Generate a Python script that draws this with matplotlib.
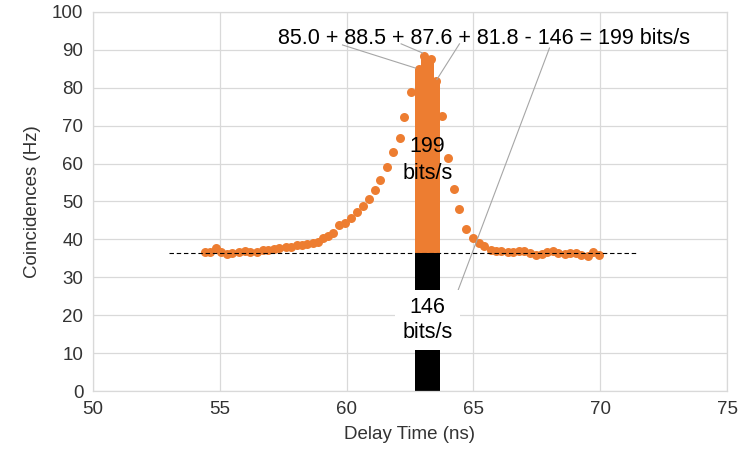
import matplotlib.pyplot as plt
import numpy as np

plt.rcParams['font.family'] = ['Liberation Sans', 'DejaVu Sans']

ORANGE = '#ED7D31'

# scatter of coincidence counts vs delay (outside the highlighted window)
delay = [54.4, 54.6, 54.85, 55.05, 55.3, 55.5, 55.75, 56.0, 56.2, 56.45, 56.7, 56.9,
         57.15, 57.35, 57.6, 57.8, 58.05, 58.25, 58.45, 58.67, 58.87, 59.07, 59.26,
         59.46, 59.7, 59.92, 60.18, 60.42, 60.64, 60.88, 61.13, 61.33, 61.59, 61.82,
         62.09, 62.28, 62.55,
         63.77, 63.99, 64.25, 64.45, 64.71, 64.97, 65.24, 65.43, 65.7, 65.9, 66.1,
         66.35, 66.55, 66.8, 67.0, 67.25, 67.45, 67.7, 67.9, 68.15, 68.35, 68.6,
         68.8, 69.05, 69.25, 69.5, 69.7, 69.95]
counts = [36.7, 36.8, 37.6, 36.8, 36.2, 36.4, 36.6, 36.9, 36.7, 36.8, 37.1, 37.2,
          37.5, 37.6, 37.9, 38.1, 38.4, 38.6, 38.9, 39.1, 39.4, 40.3, 40.9,
          41.6, 43.8, 44.2, 45.7, 47.3, 48.8, 50.6, 53.0, 55.7, 59.0, 63.1,
          66.8, 72.2, 79.0,
          72.6, 61.4, 53.2, 47.9, 42.7, 40.3, 39.0, 38.3, 37.2, 37.0, 36.9,
          36.7, 36.8, 37.0, 36.9, 36.4, 36.0, 36.2, 36.6, 37.0, 36.5, 36.1,
          36.3, 36.4, 36.0, 35.5, 36.6, 36.0]

# the four points inside the coincidence window
peak_delay = [62.84, 63.07, 63.31, 63.54]
peak_counts = [85.0, 88.5, 87.6, 81.8]

background = 36.3      # accidental coincidence level
window = (62.68, 63.70)

fig = plt.figure(figsize=(7.42, 4.63), dpi=100)
ax = fig.add_axes([93 / 742, 1 - 391 / 463, 634 / 742, 379 / 463])

ax.set_xlim(50, 75)
ax.set_ylim(0, 100)
ax.set_xticks(np.arange(50, 76, 5))
ax.set_yticks(np.arange(0, 101, 10))
ax.grid(True, color='#d9d9d9', linewidth=0.9)
ax.set_axisbelow(True)
for s in ax.spines.values():
    s.set_color('#d9d9d9')
    s.set_linewidth(0.9)
ax.tick_params(length=0, labelsize=13.5, colors='#333333', pad=7)

# black bar: accidental background in the window
ax.bar((window[0] + window[1]) / 2, background, width=window[1] - window[0],
       color='black', zorder=2)

# orange column above background
for xv, yv in zip(peak_delay, peak_counts):
    ax.bar(xv, yv - background, bottom=background, width=0.3, color=ORANGE,
           linewidth=0, zorder=3)
ax.scatter(peak_delay, peak_counts, s=42, color=ORANGE, linewidths=0, zorder=4)

ax.scatter(delay, counts, s=42, color=ORANGE, linewidths=0, zorder=4)

ax.plot([53.0, 71.45], [background, background], color='black', linestyle='--',
        dashes=(4, 2.5), linewidth=0.8, zorder=5)

# leader lines
lc = '#a6a6a6'
ax.plot([59.84, 62.72], [91.3, 85.2], color=lc, lw=0.8, zorder=6)
ax.plot([62.15, 62.99], [91.6, 89.2], color=lc, lw=0.8, zorder=6)
ax.plot([64.45, 63.56], [91.6, 82.2], color=lc, lw=0.8, zorder=6)
ax.plot([68.0, 64.25], [90.5, 24.0], color=lc, lw=0.8, zorder=6)

ax.text(65.41, 93.1, '85.0 + 88.5 + 87.6 + 81.8 - 146 = 199 bits/s', fontsize=15.5,
        ha='center', va='center', color='black', zorder=7)
ax.text(63.19, 61.0, '199\nbits/s', fontsize=15.5, ha='center', va='center',
        linespacing=1.35, zorder=7)
ax.text(63.19, 18.8, '146\nbits/s', fontsize=15.5, ha='center', va='center',
        linespacing=1.25, zorder=7,
        bbox=dict(facecolor='white', edgecolor='none', pad=5))

ax.set_xlabel('Delay Time (ns)', fontsize=13.5, color='#333333', labelpad=6)
ax.set_ylabel('Coincidences (Hz)', fontsize=13.5, color='#333333', labelpad=8)

fig.savefig('out.png', dpi=100)
